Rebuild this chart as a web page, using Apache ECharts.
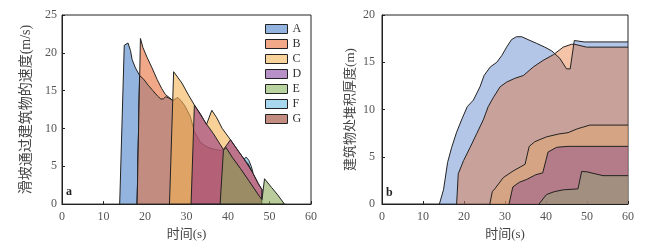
<!DOCTYPE html>
<html><head><meta charset="utf-8">
<script src="https://cdn.jsdelivr.net/npm/echarts@6/dist/echarts.min.js"></script>
<style>html,body{margin:0;padding:0;background:#fff}#c{width:647px;height:246px}</style>
</head><body><div id="c"></div>
<script>
// ---------- data ----------
const xTicks = [0, 10, 20, 30, 40, 50, 60];
const velTicks = [0, 5, 10, 15, 20, 25];
const depTicks = [0, 5, 10, 15, 20];
const legendNames = ['A', 'B', 'C', 'D', 'E', 'F', 'G'];

// panel a: velocity of the landslide passing each building (t [s], v [m/s])
const velA = [[13.9,0],[15.0,21.0],[15.9,21.3],[16.5,20.3],[16.9,19.1],[17.7,18.0],[18.7,17.0],[18.1,0]];
const velB = [[18.1,0],[18.9,21.9],[19.5,20.7],[20.5,19.4],[21.7,18.0],[22.9,16.5],[24.0,15.3],[24.9,14.5],[26.7,13.7],[25.9,0]];
const velG = [[18.1,0],[18.7,17.0],[19.7,16.5],[20.8,15.7],[21.9,15.0],[23.0,14.3],[23.8,13.9],[24.4,13.9],[25.0,14.2],[25.8,14.0],[26.7,13.7],[27.9,14.1],[28.8,13.6],[29.7,12.9],[30.9,11.6],[31.9,9.6],[33.3,8.2],[34.5,7.7],[35.7,7.4],[37.0,7.2],[38.3,7.1],[39.5,7.4],[41.0,6.2],[43.0,4.7],[45.0,3.1],[47.6,1.0],[48.1,0]];
const velC = [[25.9,0],[26.9,17.5],[28.9,16.0],[30.5,14.4],[31.9,13.1],[33.5,11.8],[34.8,10.5],[36.1,12.4],[37.3,11.4],[38.6,10.0],[40.6,8.5],[42.5,7.0],[44.2,5.7],[45.8,4.3],[47.3,2.7],[48.2,1.9],[48.1,0]];
const velD = [[31.1,0],[31.9,13.1],[33.5,11.7],[34.8,10.6],[36.5,9.3],[38.9,7.2],[40.6,8.5],[42.5,7.0],[44.2,5.7],[45.8,4.3],[47.3,2.7],[48.2,1.9],[48.1,0]];
const velE = [[38.1,0],[38.9,7.1],[39.5,7.5],[41.0,6.2],[43.0,4.7],[45.0,3.1],[47.6,1.0],[48.2,0.6],[48.8,3.35],[50.5,2.2],[52.0,1.2],[53.6,0]];
const velF = [[43.9,6.0],[44.4,6.2],[45.0,5.8],[45.6,5.0],[46.0,4.2],[45.7,4.4],[44.9,5.3],[44.2,5.7]];

// panel b: deposit thickness at buildings (t [s], h [m])
const depA = [[14,0],[15,1.5],[16,4.4],[17,6.0],[18.2,7.6],[19.5,9.0],[20.8,10.3],[22.3,11.0],[23.9,12.4],[24.9,13.6],[26.4,14.5],[28,15.0],[29.2,15.7],[30.4,16.6],[31.6,17.4],[32.8,17.7],[34.1,17.7],[36.1,17.3],[37.7,17.0],[39.7,16.6],[41.4,16.2],[43.4,15.4],[45.0,14.3],[45.9,14.3],[46.9,17.3],[49.3,17.15],[60,17.15]];
const depB = [[18.2,0],[18.6,3.2],[19.9,4.6],[21.5,6.0],[23.1,7.45],[24.7,8.9],[25.9,10.3],[27.2,11.3],[28.8,12.4],[30.4,12.9],[32.4,13.3],[34.5,13.6],[36.9,14.5],[39.3,15.2],[41.8,15.8],[44.2,16.6],[46.2,16.9],[47.0,16.9],[49.9,16.6],[60,16.6]];
const depC = [[26.3,0],[26.9,1.3],[27.5,1.6],[29.6,2.8],[32.0,3.5],[34.9,4.2],[35.9,6.1],[37.3,6.6],[40.1,7.1],[43.0,7.4],[45.4,7.55],[47.6,7.95],[50.7,8.35],[60,8.35]];
const depD = [[31.0,0],[31.9,1.8],[33.5,2.3],[35.3,2.6],[37.5,3.1],[39.2,3.3],[40.5,5.5],[42.6,6.0],[45.4,6.1],[60,6.1]];
const depE = [[38.3,0],[40.1,1.0],[42.0,1.3],[44.2,1.5],[47.8,1.6],[48.7,3.45],[50.0,3.4],[53.9,3.0],[60,3.0]];

// ---------- styles ----------
const legendColor = {A:'#94b4e0', B:'#f0a888', C:'#f8d29b', D:'#b890c8', E:'#b8d2a0', F:'#a8d8f0', G:'#c28c80'};
const velFill = {A:'#94b4e0', B:'#f0a888', G:'#c28c80',
  C:'rgba(243,178,85,0.6)', D:'rgba(150,52,128,0.6)', E:'rgba(140,170,90,0.6)', F:'rgba(110,190,230,0.6)'};
const depFill = {A:'rgba(68,113,198,0.4)', B:'rgba(230,105,38,0.4)', C:'rgba(230,171,99,0.4)',
  D:'rgba(132,62,142,0.4)', E:'rgba(137,174,116,0.4)'};
const SERIF = "'Liberation Serif','Noto Sans CJK SC',serif";
const LABEL = {fontFamily: SERIF, fontSize: 12, color: '#555'};

function polySeries(name, pts) {
  return {
    type: 'custom', name: name, xAxisIndex: 0, yAxisIndex: 0, data: pts, clip: true,
    itemStyle: {color: legendColor[name]}, silent: true,
    renderItem: function (params, api) {
      if (params.dataIndex !== 0) return null;
      return {type: 'polygon', shape: {points: pts.map(p => api.coord(p))},
        style: {fill: velFill[name], stroke: '#222', lineWidth: 1}};
    }
  };
}
function areaSeries(key, pts) {
  return {
    type: 'line', name: 'h' + key, xAxisIndex: 1, yAxisIndex: 1, data: pts, symbol: 'none',
    lineStyle: {color: '#222', width: 1}, areaStyle: {color: depFill[key], opacity: 1}, silent: true
  };
}
function xAxis(gi) {
  return {type: 'value', gridIndex: gi, min: xTicks[0], max: xTicks[xTicks.length-1], interval: xTicks[1]-xTicks[0],
    name: '时间(s)', nameLocation: 'middle', nameGap: 22,
    nameTextStyle: {fontFamily: SERIF, fontSize: 13, color: '#444'},
    axisLine: {show: true, lineStyle: {color: '#222', width: 1}},
    axisTick: {show: true, inside: true, length: 3, lineStyle: {color: '#222'}},
    axisLabel: Object.assign({margin: 7}, LABEL), splitLine: {show: false}};
}
function yAxis(gi, ticks, name, gap, lm, fs) {
  return {type: 'value', gridIndex: gi, min: ticks[0], max: ticks[ticks.length-1], interval: ticks[1]-ticks[0],
    name: name, nameLocation: 'middle', nameGap: gap, nameRotate: 90,
    nameTextStyle: {fontFamily: SERIF, fontSize: fs, color: '#444'},
    axisLine: {show: true, lineStyle: {color: '#222', width: 1}},
    axisTick: {show: true, inside: true, length: 3, lineStyle: {color: '#222'}},
    axisLabel: Object.assign({margin: lm}, LABEL), splitLine: {show: false}};
}

const chart = echarts.init(document.getElementById('c'), null, {renderer: 'canvas'});
chart.setOption({
  animation: false,
  backgroundColor: '#fff',
  grid: [
    {left: 62, top: 15, right: 336, bottom: 41, show: true, borderColor: '#222', borderWidth: 1},
    {left: 382, top: 15, right: 19, bottom: 42, show: true, borderColor: '#222', borderWidth: 1}
  ],
  xAxis: [xAxis(0), xAxis(1)],
  yAxis: [yAxis(0, velTicks, '滑坡通过建筑物的速度(m/s)', 29, 5, 14), yAxis(1, depTicks, '建筑物处堆积厚度(m)', 25, 7, 13)],
  legend: {
    orient: 'vertical', left: 260, top: 18, itemWidth: 22, itemHeight: 9, itemGap: 3, icon: 'rect',
    textStyle: {fontFamily: SERIF, fontSize: 12, color: '#333'},
    data: legendNames.map(n => ({name: n, itemStyle: {color: legendColor[n], borderColor: '#222', borderWidth: 1}}))
  },
  graphic: [
    {type: 'text', left: 66, top: 186, style: {text: 'a', font: "bold 12px 'Liberation Serif'", fill: '#222'}},
    {type: 'text', left: 386, top: 187, style: {text: 'b', font: "bold 12px 'Liberation Serif'", fill: '#222'}}
  ],
  series: [
    polySeries('A', velA), polySeries('B', velB), polySeries('G', velG),
    polySeries('C', velC), polySeries('D', velD), polySeries('E', velE), polySeries('F', velF),
    areaSeries('A', depA), areaSeries('B', depB), areaSeries('C', depC), areaSeries('D', depD), areaSeries('E', depE)
  ]
});
</script></body></html>
